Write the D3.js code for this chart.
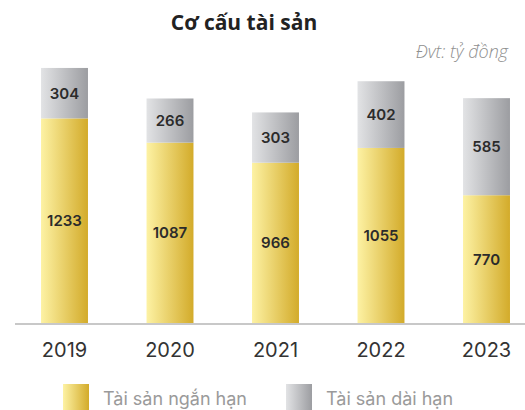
<!DOCTYPE html>
<html>
<head>
<meta charset="utf-8">
<script src="https://cdn.jsdelivr.net/npm/d3@7"></script>
<style>
  body { margin: 0; background: #fff; }
</style>
</head>
<body>
<svg id="chart" width="525" height="410"></svg>
<script>
// data
const years = ["2019", "2020", "2021", "2022", "2023"];
const shortTerm = [1233, 1087, 966, 1055, 770];   // Tài sản ngắn hạn
const longTerm = [304, 266, 303, 402, 585];       // Tài sản dài hạn
const seriesNames = ["Tài sản ngắn hạn", "Tài sản dài hạn"];

const svg = d3.select("#chart");
const BASE_Y = 323;

// gradients
const defs = svg.append("defs");
function grad(id, c1, c2) {
  const g = defs.append("linearGradient").attr("id", id)
    .attr("x1", "0%").attr("x2", "100%").attr("y1", "0%").attr("y2", "0%");
  g.append("stop").attr("offset", "0%").attr("stop-color", c1);
  g.append("stop").attr("offset", "100%").attr("stop-color", c2);
}
grad("gYellow", "#fdf2a4", "#d3ab2a");
grad("gGray", "#e2e3e5", "#9c9da1");
const fills = ["url(#gYellow)", "url(#gGray)"];

// scales
const x = d3.scaleBand().domain(years).range([11.75, 539.25]).paddingInner(0.555).paddingOuter(0.2775);
const y = d3.scaleLinear().domain([0, 1600]).range([BASE_Y, BASE_Y - 265.5]);

const table = years.map((yr, i) => ({ year: yr, short: shortTerm[i], long: longTerm[i] }));
const stacked = d3.stack().keys(["short", "long"])(table);

// bars + value labels
stacked.forEach((layer, li) => {
  svg.append("g").selectAll("rect")
    .data(layer)
    .enter()
    .append("rect")
    .attr("x", d => x(d.data.year))
    .attr("width", x.bandwidth())
    .attr("y", d => y(d[1]))
    .attr("height", d => y(d[0]) - y(d[1]))
    .attr("fill", fills[li]);

  svg.append("g").selectAll("text")
    .data(layer)
    .enter()
    .append("text")
    .attr("x", d => x(d.data.year) + x.bandwidth() / 2)
    .attr("y", d => (y(d[0]) + y(d[1])) / 2)
    .attr("dy", "0.36em")
    .attr("text-anchor", "middle")
    .attr("font-family", "Inter, sans-serif")
    .attr("font-weight", 600)
    .attr("font-size", 15)
    .attr("fill", "#2b2b2b")
    .text(d => d[1] - d[0]);
});

// axis line
svg.append("line")
  .attr("x1", 15).attr("x2", 525)
  .attr("y1", BASE_Y + 1).attr("y2", BASE_Y + 1)
  .attr("stroke", "#c8c8c8").attr("stroke-width", 2);

// year labels
svg.append("g").selectAll("text")
  .data(years)
  .enter()
  .append("text")
  .attr("x", d => x(d) + x.bandwidth() / 2)
  .attr("y", 357)
  .attr("text-anchor", "middle")
  .attr("font-family", "Inter, sans-serif")
  .attr("font-size", 20)
  .attr("fill", "#333")
  .text(d => d);

// title
svg.append("text")
  .attr("x", 244).attr("y", 30)
  .attr("text-anchor", "middle")
  .attr("font-family", "'Open Sans', sans-serif")
  .attr("font-weight", 700)
  .attr("font-size", 21)
  .attr("fill", "#222")
  .text("Cơ cấu tài sản");

svg.append("text")
  .attr("x", 508).attr("y", 58)
  .attr("text-anchor", "end")
  .attr("font-family", "'Open Sans', sans-serif")
  .attr("font-style", "italic")
  .attr("font-weight", 300)
  .attr("font-size", 18)
  .attr("fill", "#8f8f8f")
  .text("Đvt: tỷ đồng");

// legend
const legendX = [63, 286];
const legend = svg.append("g").selectAll("g")
  .data(seriesNames)
  .enter()
  .append("g")
  .attr("transform", (d, i) => "translate(" + legendX[i] + ",384)");
legend.append("rect")
  .attr("width", 26).attr("height", 26)
  .attr("fill", (d, i) => fills[i]);
legend.append("text")
  .attr("x", 40).attr("y", 21)
  .attr("font-family", "Inter, sans-serif")
  .attr("font-size", 18)
  .attr("fill", "#9a9a9a")
  .text(d => d);
</script>
</body>
</html>
